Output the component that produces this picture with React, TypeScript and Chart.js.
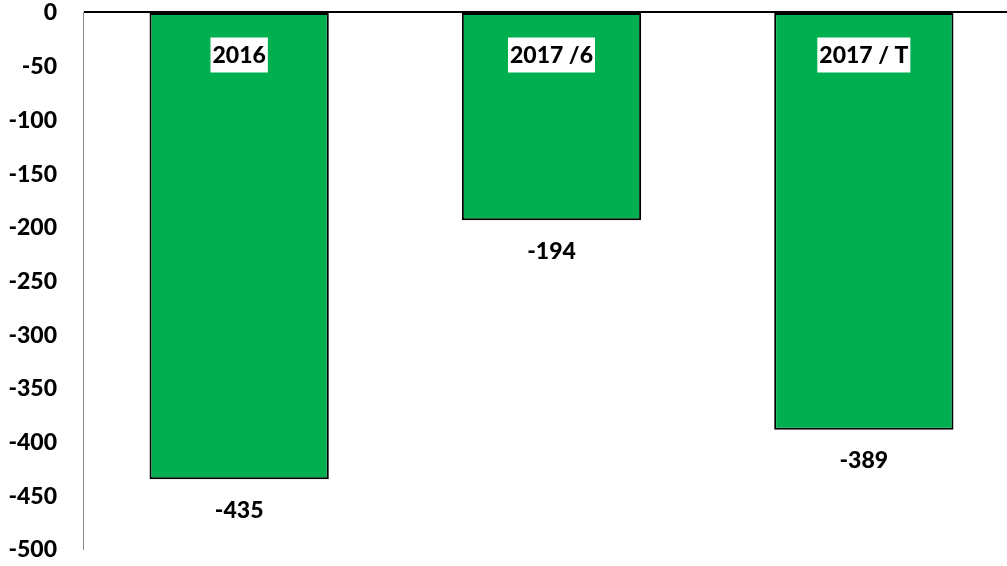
import React, { useEffect, useRef } from "react";
import { Chart, registerables } from "chart.js";

Chart.register(...registerables);

const categories = ["2016", "2017 /6", "2017 / T"];
const values = [-435, -194, -389];
const yMin = -500;
const yMax = 0;
const yStep = 50;

const FONT = "Lato, 'Liberation Sans', sans-serif";

const labelPlugin = {
  id: "barLabels",
  afterDatasetsDraw(chart: any) {
    const ctx = chart.ctx;
    const meta = chart.getDatasetMeta(0);
    const yScale = chart.scales.y;
    const zeroY = yScale.getPixelForValue(0);
    ctx.save();
    ctx.font = `900 23px ${FONT}`;
    ctx.textBaseline = "middle";
    // y tick labels
    ctx.textAlign = "right";
    ctx.fillStyle = "#000000";
    yScale.ticks.forEach((t: any) => {
      ctx.fillText(String(t.value), chart.chartArea.left - 26, yScale.getPixelForValue(t.value) + 1);
    });
    ctx.textAlign = "center";
    meta.data.forEach((bar: any, i: number) => {
      const cx = bar.x;
      const label = categories[i];
      const w = ctx.measureText(label).width + 4;
      const h = 35;
      const cy = zeroY + 43;
      ctx.fillStyle = "#ffffff";
      ctx.fillRect(cx - w / 2, cy - h / 2, w, h);
      ctx.fillStyle = "#000000";
      ctx.fillText(label, cx, cy + 1);
      const vy = yScale.getPixelForValue(values[i]) + 31;
      ctx.fillText(String(values[i]), cx, vy);
    });
    ctx.restore();
  },
};

export default function App() {
  const ref = useRef<HTMLCanvasElement | null>(null);
  useEffect(() => {
    if (!ref.current) return;
    const chart = new Chart(ref.current, {
      type: "bar",
      data: {
        labels: categories,
        datasets: [
          {
            data: values,
            backgroundColor: "#00B050",
            borderColor: "#000000",
            borderWidth: 2,
            borderSkipped: false,
            barPercentage: 0.574,
            categoryPercentage: 1,
          },
        ],
      },
      options: {
        responsive: false,
        animation: false,
        layout: { padding: { top: 12, bottom: 17, left: 0, right: 0 } },
        plugins: { legend: { display: false }, tooltip: { enabled: false } },
        scales: {
          x: { display: false },
          y: {
            min: yMin,
            max: yMax,
            ticks: {
              stepSize: yStep,
              display: false,
            },
            grid: {
              drawTicks: false,
              color: (c: any) => (c.tick && c.tick.value === 0 ? "#000000" : "rgba(0,0,0,0)"),
              lineWidth: 2,
            },
            border: { display: true, color: "#8c8c8c", width: 1 },
            afterFit: (s: any) => {
              s.width = 83;
            },
          },
        },
      },
      plugins: [labelPlugin],
    });
    return () => chart.destroy();
  }, []);
  return (
    <div style={{ position: "fixed", left: 0, top: 0, width: 1007, height: 566, overflow: "hidden", background: "#fff" }}>
      <canvas ref={ref} width={1020} height={566} style={{ display: "block" }} />
    </div>
  );
}
